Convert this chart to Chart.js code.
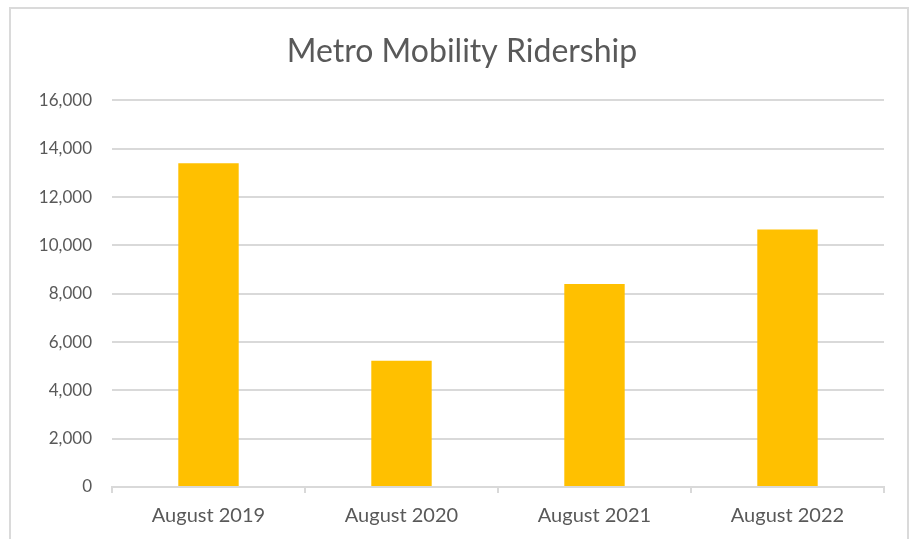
<!DOCTYPE html>
<html>
<head>
<meta charset="utf-8">
<script src="https://cdn.jsdelivr.net/npm/chart.js@4.4.0/dist/chart.umd.min.js"></script>
<style>
  html, body { margin: 0; padding: 0; background: #ffffff; }
  #wrap { position: relative; width: 912px; height: 539px; overflow: hidden; }
  #frame { position: absolute; left: 9px; top: 7px; width: 900px; height: 560px; border: 2px solid #dadada; box-sizing: border-box; }
  canvas { position: absolute; left: 0; top: 0; }
</style>
</head>
<body>
<div id="wrap">
  <div id="frame"></div>
  <canvas id="c" width="912" height="539"></canvas>
</div>
<script>
const categories = ["August 2019", "August 2020", "August 2021", "August 2022"];
const ridership = [13400, 5230, 8400, 10660];
const yTicks = [0, 2000, 4000, 6000, 8000, 10000, 12000, 14000, 16000];
const chartTitle = "Metro Mobility Ridership";

const FONT = "Lato, 'Open Sans', sans-serif";
const TEXT = "#595959";
const GRID = "#d9d9d9";

new Chart(document.getElementById("c"), {
  type: "bar",
  data: {
    labels: categories,
    datasets: [{
      label: "Ridership",
      data: ridership,
      backgroundColor: "#FFC000",
      borderWidth: 0,
      barPercentage: 0.313,
      categoryPercentage: 1.0
    }]
  },
  options: {
    responsive: false,
    animation: false,
    devicePixelRatio: 1,
    layout: { padding: { left: 40, right: 28, top: 0, bottom: 0 } },
    plugins: {
      legend: { display: false },
      tooltip: { enabled: false },
      title: {
        display: true,
        text: chartTitle,
        color: TEXT,
        font: { family: FONT, size: 32, weight: "normal", lineHeight: 1.2 },
        padding: { top: 32, bottom: 30 }
      }
    },
    scales: {
      x: {
        grid: { drawOnChartArea: false, drawTicks: true, tickLength: 6, color: GRID, lineWidth: 2 },
        border: { display: true, color: GRID, width: 2 },
        ticks: { color: TEXT, font: { family: FONT, size: 20 }, padding: 11, maxRotation: 0 },
        afterFit: (s) => { s.height = 52; }
      },
      y: {
        min: 0,
        max: 16000,
        afterBuildTicks: (s) => { s.ticks = yTicks.map(v => ({ value: v })); },
        grid: { color: GRID, lineWidth: 2, drawTicks: false },
        border: { display: false },
        ticks: {
          color: TEXT,
          font: { family: FONT, size: 17 },
          padding: 20,
          callback: (v) => Number(v).toLocaleString("en-US")
        },
        afterFit: (s) => { s.width = 72; }
      }
    }
  }
});
</script>
</body>
</html>
